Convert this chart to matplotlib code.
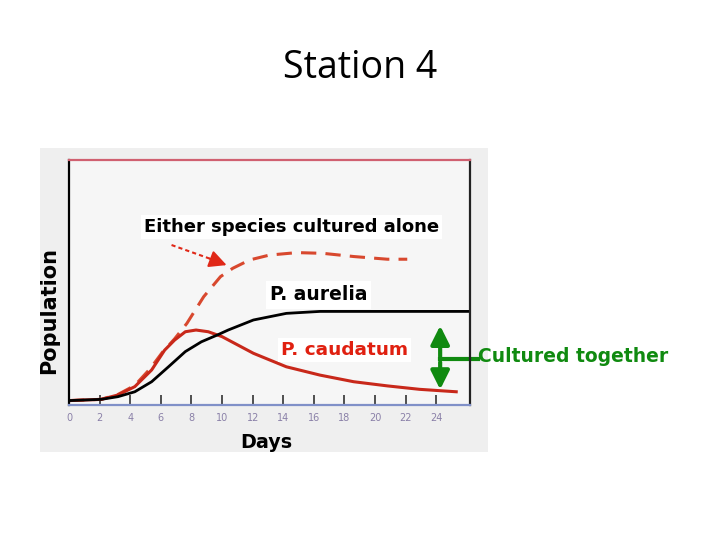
import numpy as np
from matplotlib import pyplot as plt

# values (days, relative population 0-100)
days_aur = [0, 2.1, 3.2, 4.3, 5.4, 6.5, 7.6, 8.65, 9.7, 10.4, 12.05, 14.2, 16.4, 26.3]
pop_aur = [1.8, 2.3, 3.4, 5.4, 9.5, 15.6, 21.8, 25.8, 28.6, 30.6, 34.7, 37.4, 38.2, 38.2]

days_cau = [0, 2.1, 3.2, 4.3, 5.4, 6.25, 6.9, 7.6, 8.3, 9.1, 10.0, 12.05, 14.2,
            16.4, 18.6, 20.8, 22.9, 25.3]
pop_cau = [1.8, 2.3, 4.1, 7.5, 14.3, 22.4, 26.5, 29.9, 30.6, 29.9, 27.9, 21.1, 15.6,
           12.2, 9.5, 7.8, 6.4, 5.4]

days_alone = [0, 2.1, 3.2, 4.3, 5.3, 6.1, 6.9, 7.7, 8.8, 9.9, 10.7, 11.8, 13.1,
              14.9, 16.6, 18.6, 20.8, 22.1]
pop_alone = [1.8, 2.3, 4.3, 8.0, 14.8, 21.5, 27.0, 33.3, 44.2, 52.4, 55.8, 59.2, 61.2,
             62.2, 61.9, 60.6, 59.5, 59.5]

xticks = [0, 2, 4, 6, 8, 10, 12, 14, 16, 18, 20, 22, 24]

fig = plt.figure(figsize=(7.2, 5.4), dpi=100)
fig.text(0.5, 1 - 68 / 540, 'Station 4', ha='center', va='center',
         fontsize=27, family='Open Sans')

# picture background
bg = fig.add_axes([40 / 720, 88 / 540, 448 / 720, 304 / 540])
bg.set_facecolor('#efefef')
bg.set_xticks([])
bg.set_yticks([])
for s in bg.spines.values():
    s.set_visible(False)

ax = fig.add_axes([69 / 720, 135 / 540, 401 / 720, 245 / 540])
ax.set_facecolor('#f6f6f6')
ax.set_xlim(0, 26.2)
ax.set_ylim(0, 100)

ax.plot(days_alone, pop_alone, '--', color='#d8482e', lw=2.2, dashes=(5, 3))
ax.plot(days_cau, pop_cau, '-', color='#c8281a', lw=2.2)
ax.plot(days_aur, pop_aur, '-', color='black', lw=2)

ax.set_xticks(xticks)
ax.set_xticklabels([str(t) for t in xticks], fontsize=7, color='#8a80a8')
ax.tick_params(axis='x', direction='in', length=7, width=1.2, color='#333333', pad=6)
ax.set_yticks([])
ax.spines['left'].set_color('black')
ax.spines['right'].set_color('#222222')
ax.spines['top'].set_color('#d06070')
ax.spines['bottom'].set_color('#8090c8')
for s in ax.spines.values():
    s.set_linewidth(1.6)

ax.text(14.55, 72.7, 'Either species cultured alone', ha='center', va='center',
        fontsize=13, fontweight='bold', color='black',
        bbox=dict(facecolor='white', edgecolor='none', pad=2))
# pointer: dashed shaft + solid head
ax.plot([6.7, 9.4], [65.3, 59.3], color='#e02818', lw=1.5, linestyle=(0, (2, 1.5)))
ax.annotate('', xy=(10.3, 57.1), xytext=(9.2, 59.7),
            arrowprops=dict(arrowstyle='-|>', color='#e02818', lw=1.5,
                            mutation_scale=26, shrinkA=0, shrinkB=0))
ax.text(16.3, 44.9, 'P. aurelia', ha='center', va='center',
        fontsize=13.5, fontweight='bold', color='black',
        bbox=dict(facecolor='white', edgecolor='none', pad=3))
ax.text(18.0, 22.4, 'P. caudatum', ha='center', va='center',
        fontsize=13.3, fontweight='bold', color='#e02010',
        bbox=dict(facecolor='white', edgecolor='none', pad=2))

# cultured together marker
green = '#108a10'
ax.annotate('', xy=(24.25, 33.5), xytext=(24.25, 18.6),
            arrowprops=dict(arrowstyle='-|>', color=green, lw=3, mutation_scale=28))
ax.annotate('', xy=(24.25, 5.2), xytext=(24.25, 18.6),
            arrowprops=dict(arrowstyle='-|>', color=green, lw=3, mutation_scale=28))
ax.plot([24.25, 26.75], [18.6, 18.6], color=green, lw=3, clip_on=False)
fig.text(478 / 720, 1 - 357 / 540, 'Cultured together', ha='left', va='center',
         fontsize=13.5, fontweight='bold', color=green)

fig.text(266 / 720, 1 - 443 / 540, 'Days', ha='center', va='center',
         fontsize=13.8, fontweight='bold')
fig.text(49 / 720, 1 - 310 / 540, 'Population', ha='center', va='center',
         rotation=90, fontsize=15, fontweight='bold')

plt.savefig('out.png', dpi=100)
